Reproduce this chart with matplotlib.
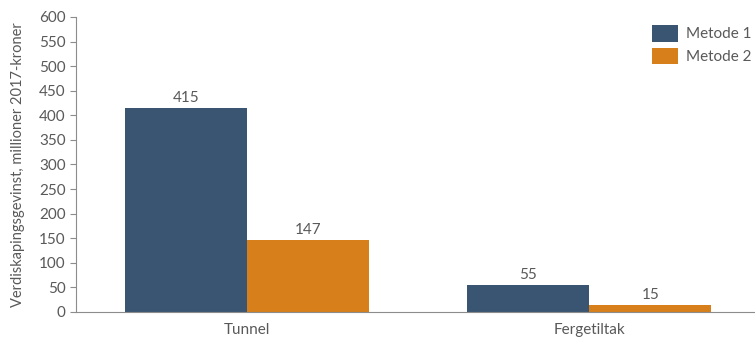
import matplotlib.pyplot as plt
import numpy as np

categories = ['Tunnel', 'Fergetiltak']
metode1 = [415, 55]
metode2 = [147, 15]
series_names = ['Metode 1', 'Metode 2']

plt.rcParams['font.family'] = ['Lato', 'DejaVu Sans']
grey = '#595959'

fig = plt.figure(figsize=(7.55, 3.4), dpi=100)
ax = fig.add_axes([0.1007, 0.0824, 0.8993, 0.8676])

x = np.arange(len(categories))
w = 0.357
b1 = ax.bar(x - w / 2, metode1, w, color='#3A5572', label=series_names[0])
b2 = ax.bar(x + w / 2, metode2, w, color='#D77F1A', label=series_names[1])

for bars in (b1, b2):
    for rect in bars:
        ax.text(rect.get_x() + rect.get_width() / 2, rect.get_height() + 6,
                f'{int(rect.get_height())}', ha='center', va='bottom',
                fontsize=11, color=grey)

ax.set_xlim(-0.5, 1.485)
ax.set_ylim(0, 600)
ax.set_yticks(range(0, 601, 50))
ax.set_xticks(x)
ax.set_xticklabels(categories)
ax.tick_params(axis='x', length=0, pad=8, labelsize=11, labelcolor=grey)
ax.tick_params(axis='y', length=4, color='#8c8c8c', labelsize=11, labelcolor=grey)

for s in ('top', 'right'):
    ax.spines[s].set_visible(False)
ax.spines['left'].set_color('#8c8c8c')
ax.spines['bottom'].set_color('#8c8c8c')

ax.set_ylabel('Verdiskapingsgevinst, millioner 2017-kroner', fontsize=10.5, color=grey, labelpad=10)

ax.legend(loc='upper right', bbox_to_anchor=(1.015, 1.02), frameon=False, fontsize=11,
          labelcolor=grey, handlelength=1.7, handleheight=1.3, labelspacing=0.4,
          handletextpad=0.5)

fig.savefig('out.png', dpi=100)
